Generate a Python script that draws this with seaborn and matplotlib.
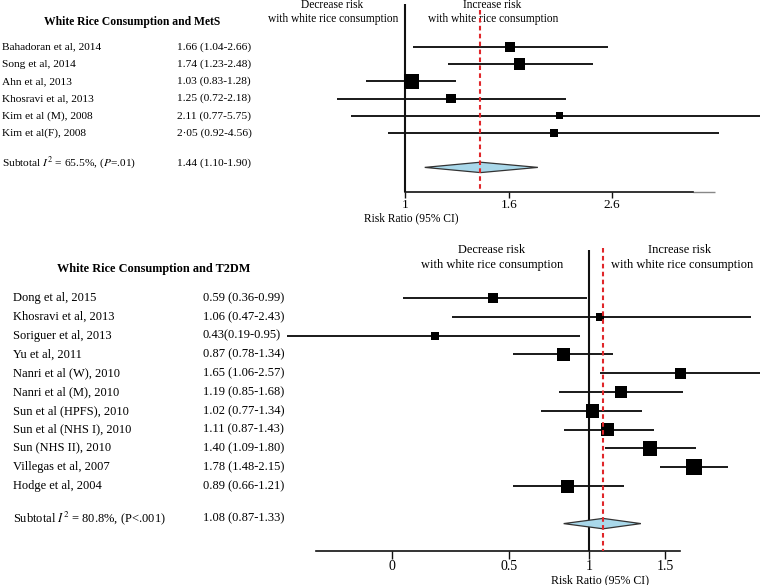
import numpy as np
import pandas as pd
import seaborn as sns
import matplotlib.pyplot as plt
from matplotlib import transforms
from matplotlib.ticker import NullLocator

# ---- data: white rice and MetS
mets_study = ['Bahadoran et al, 2014', 'Song et al, 2014', 'Ahn et al, 2013',
              'Khosravi et al, 2013', 'Kim et al (M), 2008', 'Kim et al(F), 2008']
mets_label = ['1.66 (1.04-2.66)', '1.74 (1.23-2.48)', '1.03 (0.83-1.28)',
              '1.25 (0.72-2.18)', '2.11 (0.77-5.75)', '2\u00b705 (0.92-4.56)']
mets_rr = [1.66, 1.74, 1.03, 1.25, 2.11, 2.05]
mets_lo = [1.04, 1.23, 0.83, 0.72, 0.77, 0.92]
mets_hi = [2.66, 2.48, 1.28, 2.18, 5.75, 4.56]
mets_box = [10, 11.5, 15, 9.5, 7, 8]
mets_total = (1.44, 1.10, 1.90)
mets_total_label = '1.44 (1.10-1.90)'

# ---- data: white rice and T2DM
t2dm_study = ['Dong et al, 2015', 'Khosravi et al, 2013', 'Soriguer et al, 2013',
              'Yu et al, 2011', 'Nanri et al (W), 2010', 'Nanri et al (M), 2010',
              'Sun et al (HPFS), 2010', 'Sun et al (NHS I), 2010', 'Sun (NHS II), 2010',
              'Villegas et al, 2007', 'Hodge et al, 2004']
t2dm_label = ['0.59 (0.36-0.99)', '1.06 (0.47-2.43)', '0.43(0.19-0.95)',
              '0.87 (0.78-1.34)', '1.65 (1.06-2.57)', '1.19 (0.85-1.68)',
              '1.02 (0.77-1.34)', '1.11 (0.87-1.43)', '1.40 (1.09-1.80)',
              '1.78 (1.48-2.15)', '0.89 (0.66-1.21)']
t2dm_rr = [0.59, 1.06, 0.43, 0.87, 1.65, 1.19, 1.02, 1.11, 1.40, 1.78, 0.89]
t2dm_lo = [0.36, 0.47, 0.19, 0.66, 1.06, 0.85, 0.77, 0.87, 1.09, 1.48, 0.66]
t2dm_hi = [0.99, 2.43, 0.95, 1.14, 2.57, 1.68, 1.34, 1.43, 1.80, 2.15, 1.21]
t2dm_box = [10, 8, 8, 13, 11, 12, 13.5, 13, 14.5, 16, 13]
t2dm_total = (1.08, 0.87, 1.33)
t2dm_total_label = '1.08 (0.87-1.33)'

SERIF = 'Liberation Serif'
INK = '#111111'
RED = '#e0262a'
DIAMOND = '#a9d8ea'
W, H = 767, 585


def panel(fig, top_px, bot_px, row0_px, step_px, xlo, xhi):
    ax = fig.add_axes([280 / W, 1 - bot_px / H, 480 / W, (bot_px - top_px) / H])
    ax.set_xscale('log')
    ax.set_xlim(xlo, xhi)
    ax.set_ylim((bot_px - row0_px) / step_px, (top_px - row0_px) / step_px)
    ax.set_facecolor('none')
    for s in ['top', 'right', 'left']:
        ax.spines[s].set_visible(False)
    ax.set_yticks([])
    ax.xaxis.set_minor_locator(NullLocator())
    return ax


def draw_forest(ax, rr, lo, hi, box, total, step_px, axis_row, top_row, red_top):
    df = pd.DataFrame({'rr': rr, 'lo': lo, 'hi': hi, 'row': np.arange(len(rr))})
    ax.hlines(df['row'], df['lo'], df['hi'], color=INK, lw=1.35, zorder=2)
    sns.scatterplot(data=df, x='rr', y='row', marker='s', color='black',
                    s=[(b * 0.72) ** 2 for b in box], linewidth=0,
                    legend=False, zorder=3, ax=ax)
    est, clo, chi = total
    yd = len(rr) + 1
    h = 5.2 / step_px
    ax.fill([clo, est, chi, est, clo], [yd, yd - h, yd, yd + h, yd],
            facecolor=DIAMOND, edgecolor='#333333', lw=0.9, zorder=3)
    ax.vlines(1, top_row, axis_row, color=INK, lw=1.5, zorder=1)
    ax.vlines(est, red_top, axis_row, color=RED, lw=1.5, linestyles=(0, (2.2, 1.6)), zorder=4)
    ax.spines['bottom'].set_position(('data', axis_row))
    ax.spines['bottom'].set_color(INK)
    ax.spines['bottom'].set_linewidth(1.2)
    ax.set_xlabel('')
    ax.set_ylabel('')
    return yd


fig = plt.figure(figsize=(W / 100, H / 100), dpi=100)
fig.patch.set_facecolor('white')

# ---------- top panel: MetS (1 at x=405 px, 207 px per ln unit)
s1 = 207
ax1 = panel(fig, 0, 215, 47, 17.2, np.exp((280 - 405) / s1), np.exp((760 - 405) / s1))
yd1 = draw_forest(ax1, mets_rr, mets_lo, mets_hi, mets_box, mets_total, 17.2,
                  8.45, -2.5, -2.15)
ax1.spines['bottom'].set_bounds(1, np.exp((693 - 405) / s1))
ax1.hlines(8.42, np.exp((693 - 405) / s1), np.exp((715 - 405) / s1), color='#888888', lw=1.0)
ax1.set_xticks([1, np.exp((509 - 405) / s1), np.exp((612 - 405) / s1)], ['1', '1.6', '2.6'])
ax1.tick_params(axis='x', length=4, width=1, color=INK, pad=0.5, labelsize=9.5)
for t in ax1.get_xticklabels():
    t.set_fontfamily(SERIF)

tr1 = transforms.blended_transform_factory(fig.transFigure, ax1.transData)
fs1 = 8.2
ax1.text(132 / W, -1.45, 'White Rice Consumption and MetS', transform=tr1, ha='center',
         va='center', fontsize=8.4, fontweight='bold', family=SERIF)
for i, (st, lb) in enumerate(zip(mets_study, mets_label)):
    ax1.text(2 / W, i, st, transform=tr1, va='center', fontsize=fs1, family=SERIF)
    ax1.text(177 / W, i, lb, transform=tr1, va='center', fontsize=fs1, family=SERIF)
ax1.text(2 / W, yd1 - 0.25, 'Subtotal $I^2$ = 65.5%, ($P$=.01)', transform=tr1, va='center',
         fontsize=fs1, family=SERIF, math_fontfamily='stix')
ax1.text(177 / W, yd1 - 0.25, mets_total_label, transform=tr1, va='center', fontsize=fs1,
         family=SERIF)
ax1.text(332 / W, -2.44, 'Decrease risk', transform=tr1, ha='center', va='center',
         fontsize=8.3, family=SERIF)
ax1.text(333 / W, -1.63, 'with white rice consumption', transform=tr1, ha='center',
         va='center', fontsize=8.3, family=SERIF)
ax1.text(492 / W, -2.44, 'Increase risk', transform=tr1, ha='center', va='center',
         fontsize=8.3, family=SERIF)
ax1.text(493 / W, -1.63, 'with white rice consumption', transform=tr1, ha='center',
         va='center', fontsize=8.3, family=SERIF)
ax1.text(411 / W, 9.97, 'Risk Ratio (95% CI)', transform=tr1, ha='center', va='center',
         fontsize=8.3, family=SERIF)

# ---------- bottom panel: T2DM (1 at x=589 px, 182 px per ln unit)
s2 = 182
ax2 = panel(fig, 235, 585, 298, 18.8, np.exp((280 - 589) / s2), np.exp((760 - 589) / s2))
yd2 = draw_forest(ax2, t2dm_rr, t2dm_lo, t2dm_hi, t2dm_box, t2dm_total, 18.8,
                  13.46, -2.55, -2.66)
ax2.spines['bottom'].set_bounds(np.exp((316 - 589) / s2), np.exp((680 - 589) / s2))
ax2.set_xticks([np.exp((392 - 589) / s2), np.exp((509 - 589) / s2), 1,
                np.exp((665 - 589) / s2)], ['0', '0.5', '1', '1.5'])
ax2.tick_params(axis='x', length=6, width=1, color=INK, pad=0.5, labelsize=10)
for t in ax2.get_xticklabels():
    t.set_fontfamily(SERIF)

tr2 = transforms.blended_transform_factory(fig.transFigure, ax2.transData)
fs2 = 9.0
ax2.text(154 / W, -1.54, 'White Rice Consumption and T2DM', transform=tr2, ha='center',
         va='center', fontsize=8.8, fontweight='bold', family=SERIF)
for i, (st, lb) in enumerate(zip(t2dm_study, t2dm_label)):
    ax2.text(13 / W, i, st, transform=tr2, va='center', fontsize=fs2, family=SERIF)
    ax2.text(203 / W, i, lb, transform=tr2, va='center', fontsize=fs2, family=SERIF)
ax2.text(13 / W, yd2 - 0.3, 'Subtotal $I^2$ = 80.8%, (P<.001)', transform=tr2, va='center',
         fontsize=fs2, family=SERIF, math_fontfamily='stix')
ax2.text(203 / W, yd2 - 0.3, t2dm_total_label, transform=tr2, va='center', fontsize=fs2,
         family=SERIF)
ax2.text(492 / W, -2.55, 'Decrease risk', transform=tr2, ha='center', va='center',
         fontsize=8.9, family=SERIF)
ax2.text(492 / W, -1.76, 'with white rice consumption', transform=tr2, ha='center',
         va='center', fontsize=8.9, family=SERIF)
ax2.text(680 / W, -2.55, 'Increase risk', transform=tr2, ha='center', va='center',
         fontsize=8.9, family=SERIF)
ax2.text(682 / W, -1.76, 'with white rice consumption', transform=tr2, ha='center',
         va='center', fontsize=8.9, family=SERIF)
ax2.text(600 / W, 15.0, 'Risk Ratio (95% CI)', transform=tr2, ha='center', va='center',
         fontsize=8.6, family=SERIF)

fig.savefig('out.png', dpi=100)
